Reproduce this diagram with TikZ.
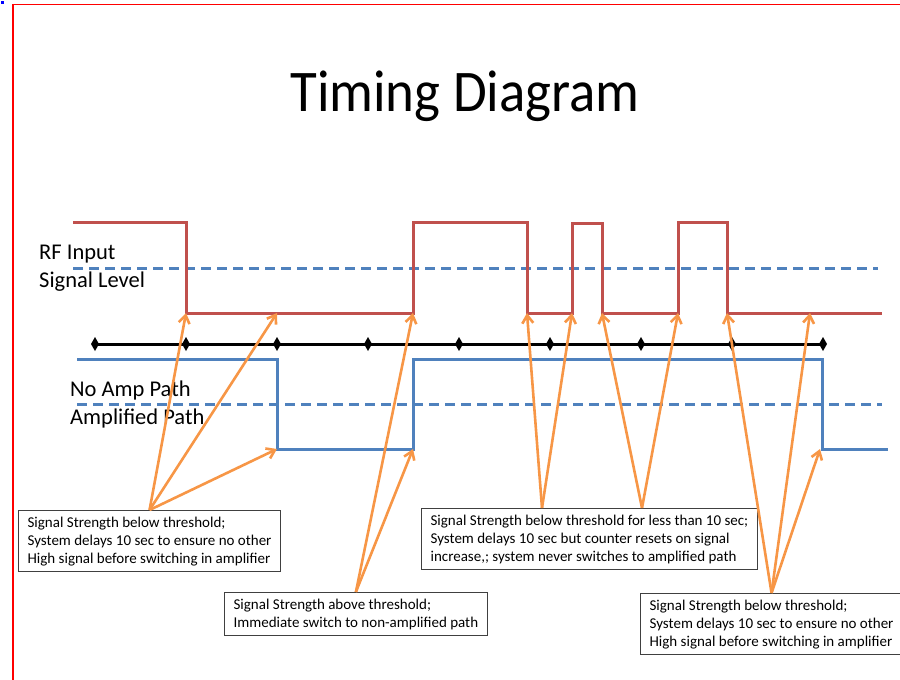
\documentclass[tikz,border=0pt]{standalone}
\usepackage{fontspec}
\setmainfont{Carlito}
\usetikzlibrary{arrows.meta}
\definecolor{sigred}{HTML}{C0504D}
\definecolor{sigblue}{HTML}{4F81BD}
\definecolor{callout}{HTML}{F79646}
\begin{document}
\begin{tikzpicture}[x=1pt,y=-1pt,
  rfline/.style={sigred,line width=3pt},
  pathline/.style={sigblue,line width=3pt},
  thresh/.style={sigblue,line width=3pt,dash pattern=on 10pt off 6pt},
  pointer/.style={callout,line width=2.6pt,-{Straight Barb[length=8pt,width=11pt]}},
  note/.style={draw=black!75,line width=1.2pt,align=left,anchor=north west,
    inner xsep=9pt,inner ysep=6pt,font=\fontsize{15}{18}\selectfont},
  lbl/.style={anchor=west,align=left,inner sep=0pt,font=\fontsize{22.5}{28}\selectfont}]
\useasboundingbox (0,0) rectangle (900,680);
% frame
\draw[red,line width=2pt] (12.5,4) -- (12.5,680);
\draw[red,line width=1.5pt] (12,4.5) -- (900,4.5);
\fill[blue] (1,1) rectangle (4,4);
\node[font=\fontsize{59}{60}\selectfont,xscale=0.93,anchor=base] (title) at (465,111) {Timing Diagram};
% thresholds
\draw[thresh] (73,268) -- (878,268);
\draw[thresh] (77,404) -- (882,404);
% signals
\draw[rfline] (73,222) -- (186,222) -- (186,313) -- (413,313) -- (413,222) -- (527,222)
  -- (527,313) -- (572,313) -- (572,223) -- (602,223) -- (602,313) -- (678,313)
  -- (678,222) -- (727,222) -- (727,313) -- (882,313);
\draw[pathline] (77,359) -- (277,359) -- (277,449) -- (413,449) -- (413,359)
  -- (822,359) -- (822,449) -- (888,449);
% time axis
\draw[line width=3pt] (95,344) -- (823,344);
\foreach \x in {95,186,277,368,459,550,641,732,823}
  \fill (\x,337) -- (\x+4,344) -- (\x,351) -- (\x-4,344) -- cycle;
\node[lbl] (rflabel) at (39,268) {RF Input\\Signal Level};
\node[lbl] (pathlabel) at (70,404) {No Amp Path\\Amplified Path};
% switching points
\coordinate (rf1) at (186,313);
\coordinate (rf2) at (277,313);
\coordinate (amp1) at (277,449);
\coordinate (rf3) at (413,313);
\coordinate (amp2) at (413,449);
\coordinate (rf4) at (527,313);
\coordinate (rf5) at (572,313);
\coordinate (rf6) at (602,313);
\coordinate (rf7) at (678,313);
\coordinate (rf8) at (727,313);
\coordinate (rf9) at (810,313);
\coordinate (amp3) at (820,449);
% notes
\node[note] (note1) at (18,510) {Signal Strength below threshold;\\System delays 10 sec to ensure no other\\High signal before switching in amplifier};
\node[note] (note2) at (224,592) {Signal Strength above threshold;\\Immediate switch to non-amplified path};
\node[note] (note3) at (421,508) {Signal Strength below threshold for less than 10 sec;\\System delays 10 sec but counter resets on signal\\increase,; system never switches to amplified path};
\node[note] (note4) at (640,593) {Signal Strength below threshold;\\System delays 10 sec to ensure no other\\High signal before switching in amplifier};
\coordinate (fork3a) at (542,508);
\coordinate (fork3b) at (642,508);
% callouts
\foreach \t in {rf1,rf2,amp1} \draw[pointer] (note1.north) -- (\t);
\foreach \t in {rf3,amp2} \draw[pointer] (note2.north) -- (\t);
\foreach \t in {rf4,rf5} \draw[pointer] (fork3a) -- (\t);
\foreach \t in {rf6,rf7} \draw[pointer] (fork3b) -- (\t);
\foreach \t in {rf8,rf9,amp3} \draw[pointer] (note4.north) -- (\t);
\end{tikzpicture}
\end{document}
